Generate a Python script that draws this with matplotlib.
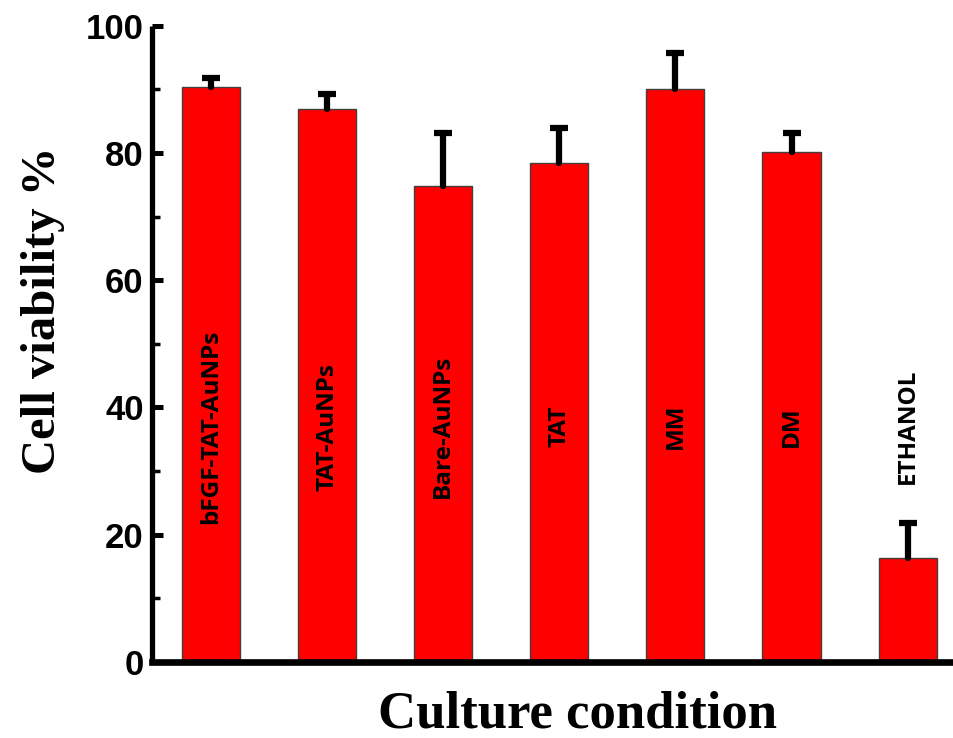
import matplotlib
matplotlib.use("Agg")
import matplotlib.pyplot as plt
import numpy as np

categories = ["bFGF-TAT-AuNPs", "TAT-AuNPs", "Bare-AuNPs", "TAT", "MM", "DM", "ETHANOL"]
viability = [90.3, 86.9, 74.8, 78.4, 90.1, 80.1, 16.3]
err_upper = [1.45, 2.3, 8.4, 5.45, 5.6, 3.1, 5.5]
yticks = [0, 20, 40, 60, 80, 100]
minor_yticks = [10, 30, 50, 70, 90]
xlabel = "Culture condition"
ylabel = "Cell viability %"

fig = plt.figure(figsize=(9.54, 7.38), dpi=100)
ax = fig.add_axes([152/954, 1-662/738, 1-152/954, (662-25.7)/738])

x = np.arange(1, len(categories)+1)
ax.bar(x, viability, width=0.5, color="#ff0000", edgecolor="#404040", linewidth=1.0, zorder=2)

eb = ax.errorbar(x, viability, yerr=[np.zeros(len(x)), err_upper], fmt="none",
                 ecolor="black", elinewidth=4.5, capsize=6.5, capthick=4.5, zorder=3)
eb[1][0].set_visible(False)
for ln in eb[1]:
    ln.set_solid_capstyle("round")
    ln.set_dash_capstyle("round")
for lc in eb[2]:
    lc.set_capstyle("round")

for xi, name in zip(x, categories):
    ax.text(xi, 37, name, rotation=90, ha="center", va="center",
            fontsize=17.5, fontweight="bold", family=["Open Sans", "DejaVu Sans"], zorder=4)

ax.set_xlim(0.49, 7.4)
ax.set_ylim(0, 100)
ax.set_yticks(yticks)
ax.set_yticks(minor_yticks, minor=True)
ax.set_yticklabels([str(t) for t in yticks], fontsize=25, fontweight="bold",
                   family=["Liberation Sans", "DejaVu Sans"])
ax.set_xticks([])
ax.tick_params(axis="y", which="major", direction="in", length=8, width=3.6, pad=6)
ax.tick_params(axis="y", which="minor", direction="in", length=6, width=2.5)

for s in ["top", "right"]:
    ax.spines[s].set_visible(False)
ax.spines["left"].set_linewidth(3.8)
ax.spines["bottom"].set_linewidth(4.8)
ax.spines["left"].set_capstyle("butt")

fig.text(55/954, 1-310/738, ylabel, rotation=90, rotation_mode="anchor", ha="center", va="baseline",
         fontsize=35, fontweight="bold", family=["Liberation Serif", "DejaVu Serif"])
fig.text(577/954, 1-727/738, xlabel, ha="center", va="baseline",
         fontsize=38, fontweight="bold", family=["Liberation Serif", "DejaVu Serif"])

fig.savefig("out.png", dpi=100)
